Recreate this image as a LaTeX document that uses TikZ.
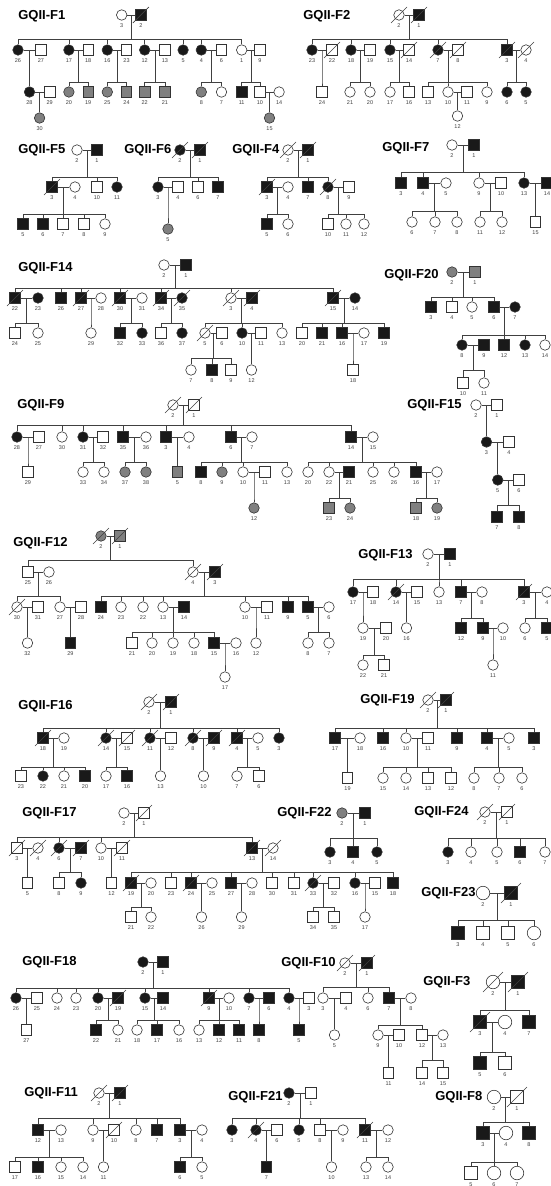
\documentclass[tikz,border=0pt]{standalone}
\usepackage{fontspec}
\setmainfont{Liberation Sans}
\usetikzlibrary{calc}
% marriage line, drop and sibship line down to each child
\newcommand{\kids}[4]{\draw (#1) -- (#2);
	\coordinate (mid) at ($(#1)!0.5!(#2)$);
	\foreach \k in {#4} {\draw (mid) -- (mid |- 0,#3) -- (\k.north |- 0,#3) -- (\k.north);}}
\newcommand{\dead}[2][8]{\draw ($(#2)+(-#1,#1)$) -- ($(#2)+(#1,-#1)$);}
\tikzset{
	sym/.style={minimum size=10.5pt},
	ind/.style={draw=black!80, line width=0.6pt, inner sep=0pt, sym},
	mu/.style={ind, rectangle, fill=white},
	ma/.style={ind, rectangle, fill=black!90},
	mc/.style={ind, rectangle, fill=black!50},
	fu/.style={ind, circle, fill=white},
	fa/.style={ind, circle, fill=black!90},
	fc/.style={ind, circle, fill=black!50},
	title/.style={font=\bfseries\fontsize{13}{13}\selectfont, text=black, anchor=west, inner sep=0pt},
	every label/.style={font=\fontsize{5.5}{6}\selectfont, inner sep=0.5pt, text=black!75}
}
\begin{document}
\begin{tikzpicture}[x=1pt, y=-1pt, line width=0.6pt, color=black!75, label distance=2pt]
			%%%%% START %%%%%
			\fill[white] (0,0) rectangle (551,1186);
			\useasboundingbox (0,0) rectangle (551,1186);
			
			%%%%% GQII-F1 %%%%%
			\node[title] at (18,16) {GQII-F1};
			\node[fu,label=below:3] (f1-3) at (121.7,15) {};
			\node[ma,label=below:2] (f1-2) at (140.9,15) {};
			\foreach \n/\x/\t in {26/18/fa,27/41/mu,17/68.9/fa,18/88.1/mu,16/107.3/fa,23/126.5/mu,12/144.7/fa,13/164.9/mu,5/183.1/fa,4/201.3/fa,6/221.5/mu,1/241.7/fu,9/259.9/mu}
				\node[\t,label=below:\n] (f1-\n) at (\x,50) {};
			\foreach \n/\x/\t in {28/29.5/fa,29/49.7/mu,20/68.9/fc,19/88.1/mc,25/107.3/fc,24/126.5/mc,22/144.7/mc,21/164.9/mc,8/201.3/fc,7/221.5/fu,11/241.7/ma,10/259.9/mu,14/279.1/fu}
				\node[\t,label=below:\n] (f1-\n) at (\x,92) {};
			\node[fc,label=below:30] (f1-30) at (39.6,118) {};
			\node[fc,label=below:15] (f1-15) at (269.5,118) {};
			\kids{f1-3}{f1-2}{39}{f1-26,f1-17,f1-16,f1-12,f1-5,f1-4,f1-1}
			\kids{f1-26}{f1-27}{70}{f1-28}
			\kids{f1-17}{f1-18}{82}{f1-20,f1-19}
			\kids{f1-16}{f1-23}{82}{f1-25,f1-24}
			\kids{f1-12}{f1-13}{82}{f1-22,f1-21}
			\kids{f1-4}{f1-6}{82}{f1-8,f1-7}
			\kids{f1-1}{f1-9}{82}{f1-11,f1-10}
			\kids{f1-28}{f1-29}{105}{f1-30}
			\kids{f1-10}{f1-14}{105}{f1-15}
			\dead{f1-2}
			
			%%%%% GQII-F2 %%%%%
			\node[title] at (303,16) {GQII-F2};
			\node[fu,label=below:2] (f2-2) at (399,15) {};
			\node[ma,label=below:1] (f2-1) at (419,15) {};
			\foreach \n/\x/\t in {23/312/fa,22/332/mu,18/351/fa,19/370/mu,15/390/fa,14/409/mu,7/438/fa,8/458/mu,3/507/ma,4/526/fu}
				\node[\t,label=below:\n] (f2-\n) at (\x,50) {};
			\foreach \n/\x/\t in {24/322/mu,21/350/fu,20/370/fu,17/390/fu,16/409/mu,13/428/mu,10/448/fu,11/467/mu,9/487/fu,6/507/fa,5/526/fa}
				\node[\t,label=below:\n] (f2-\n) at (\x,92) {};
			\node[fu,label=below:12] (f2-12) at (457.5,116) {};
			\kids{f2-2}{f2-1}{39}{f2-23,f2-18,f2-15,f2-7,f2-3}
			\kids{f2-23}{f2-22}{82}{f2-24}
			\kids{f2-18}{f2-19}{82}{f2-21,f2-20}
			\kids{f2-15}{f2-14}{82}{f2-17,f2-16}
			\kids{f2-7}{f2-8}{82}{f2-13,f2-10,f2-9}
			\kids{f2-10}{f2-11}{105}{f2-12}
			\kids{f2-3}{f2-4}{82}{f2-6,f2-5}
			\foreach \n in {f2-2,f2-1,f2-22,f2-14,f2-7,f2-8,f2-3,f2-4} {\dead{\n}}
			
			%%%%% GQII-F5 %%%%%
			\node[title] at (18,150) {GQII-F5};
			\node[fu,label=below:2] (f5-2) at (77,150) {};
			\node[ma,label=below:1] (f5-1) at (97,150) {};
			\foreach \n/\x/\t in {3/52/ma,4/75/fu,10/97/mu,11/117/fa}
				\node[\t,label=below:\n] (f5-\n) at (\x,187) {};
			\foreach \n/\x/\t in {5/23/ma,6/43/ma,7/63/mu,8/84/mu,9/105/fu}
				\node[\t,label=below:\n] (f5-\n) at (\x,224) {};
			\kids{f5-2}{f5-1}{177}{f5-3,f5-10,f5-11}
			\kids{f5-3}{f5-4}{214}{f5-5,f5-6,f5-7,f5-8,f5-9}
			\dead{f5-3}
			
			%%%%% GQII-F6 %%%%%
			\node[title] at (124,150) {GQII-F6};
			\node[fa,label=below:2] (f6-2) at (180,150) {};
			\node[ma,label=below:1] (f6-1) at (200,150) {};
			\foreach \n/\x/\t in {3/158/fa,4/178/mu,6/198/mu,7/218/ma}
				\node[\t,label=below:\n] (f6-\n) at (\x,187) {};
			\node[fc,label=below:5] (f6-5) at (168,229) {};
			\kids{f6-2}{f6-1}{177}{f6-3,f6-6,f6-7}
			\kids{f6-3}{f6-4}{214}{f6-5}
			\foreach \n in {f6-2,f6-1} {\dead{\n}}
			
			%%%%% GQII-F4 %%%%%
			\node[title] at (232,150) {GQII-F4};
			\node[fu,label=below:2] (f4-2) at (288,150) {};
			\node[ma,label=below:1] (f4-1) at (308,150) {};
			\foreach \n/\x/\t in {3/267/ma,4/288/fu,7/308/ma,8/328/fa,9/349/mu}
				\node[\t,label=below:\n] (f4-\n) at (\x,187) {};
			\foreach \n/\x/\t in {5/267/ma,6/288/fu,10/328/mu,11/346/fu,12/364/fu}
				\node[\t,label=below:\n] (f4-\n) at (\x,224) {};
			\kids{f4-2}{f4-1}{177}{f4-3,f4-7,f4-8}
			\kids{f4-3}{f4-4}{214}{f4-5,f4-6}
			\kids{f4-8}{f4-9}{214}{f4-10,f4-11,f4-12}
			\foreach \n in {f4-2,f4-1,f4-3,f4-8} {\dead{\n}}
			
			%%%%% GQII-F7 %%%%%
			\node[title] at (382,148) {GQII-F7};
			\node[fu,label=below:2] (f7-2) at (452,145) {};
			\node[ma,label=below:1] (f7-1) at (474,145) {};
			\foreach \n/\x/\t in {3/401/ma,4/423/ma,5/446/fu,9/479/fu,10/501/mu,13/524/fa,14/547/ma}
				\node[\t,label=below:\n] (f7-\n) at (\x,183) {};
			\foreach \n/\x/\t in {6/412/fu,7/435/fu,8/457/fu,11/480/fu,12/502/fu,15/535.5/mu}
				\node[\t,label=below:\n] (f7-\n) at (\x,222) {};
			\kids{f7-2}{f7-1}{172}{f7-3,f7-4,f7-9,f7-13}
			\kids{f7-4}{f7-5}{211}{f7-6,f7-7,f7-8}
			\kids{f7-9}{f7-10}{211}{f7-11,f7-12}
			\kids{f7-13}{f7-14}{211}{f7-15}
			
			%%%%% GQII-F14 %%%%%
			\node[title] at (18,268) {GQII-F14};
			\node[fu,label=below:2] (f14-2) at (164,265) {};
			\node[ma,label=below:1] (f14-1) at (186,265) {};
			\foreach \n/\x/\t in {22/15/ma,23/38/fa,26/61/ma,27/81/ma,28/101/fu,30/120/ma,31/142/fu,34/161/ma,35/182/fa,3/231/fu,4/252/ma,15/333/ma,14/355/fa}
				\node[\t,label=below:\n] (f14-\n) at (\x,298) {};
			\foreach \n/\x/\t in {24/15/mu,25/38/fu,29/91/fu,32/120/ma,33/142/fa,36/161/mu,37/182/fa,5/205/fu,6/222/mu,10/242/fa,11/261/mu,13/282/fu,20/302/mu,21/322/ma,16/342/ma,17/364/fu,19/384/ma}
				\node[\t,label=below:\n] (f14-\n) at (\x,333) {};
			\foreach \n/\x/\t in {7/191/fu,8/212/ma,9/231/mu,12/251.5/fu,18/353/mu}
				\node[\t,label=below:\n] (f14-\n) at (\x,370) {};
			\kids{f14-2}{f14-1}{288}{f14-22,f14-26,f14-27,f14-30,f14-34,f14-3,f14-15}
			\kids{f14-22}{f14-23}{323}{f14-24,f14-25}
			\kids{f14-27}{f14-28}{323}{f14-29}
			\kids{f14-30}{f14-31}{323}{f14-32,f14-33}
			\kids{f14-34}{f14-35}{323}{f14-36,f14-37}
			\kids{f14-3}{f14-4}{323}{f14-5,f14-10,f14-13}
			\kids{f14-15}{f14-14}{323}{f14-20,f14-21,f14-16,f14-19}
			\kids{f14-5}{f14-6}{358}{f14-7,f14-8,f14-9}
			\kids{f14-10}{f14-11}{358}{f14-12}
			\kids{f14-16}{f14-17}{358}{f14-18}
			\foreach \n in {f14-22,f14-27,f14-30,f14-34,f14-35,f14-3,f14-4,f14-15,f14-5} {\dead{\n}}
			
			%%%%% GQII-F20 %%%%%
			\node[title] at (384,275) {GQII-F20};
			\node[fc,label=below:2] (f20-2) at (452,272) {};
			\node[mc,label=below:1] (f20-1) at (475,272) {};
			\foreach \n/\x/\t in {3/431/ma,4/452/mu,5/472/fu,6/494/ma,7/515/fa}
				\node[\t,label=below:\n] (f20-\n) at (\x,307) {};
			\foreach \n/\x/\t in {8/462/fa,9/484/ma,12/504/ma,13/525/fa,14/545/fu}
				\node[\t,label=below:\n] (f20-\n) at (\x,345) {};
			\foreach \n/\x/\t in {10/463/mu,11/484/fu}
				\node[\t,label=below:\n] (f20-\n) at (\x,383) {};
			\kids{f20-2}{f20-1}{297}{f20-3,f20-4,f20-5,f20-6}
			\kids{f20-6}{f20-7}{335}{f20-8,f20-12,f20-13,f20-14}
			\kids{f20-8}{f20-9}{370}{f20-10,f20-11}
			
			%%%%% GQII-F9 %%%%%
			\node[title] at (17,405) {GQII-F9};
			\node[fu,label=below:2] (f9-2) at (173,405) {};
			\node[mu,label=below:1] (f9-1) at (194,405) {};
			\foreach \n/\x/\t in {28/17/fa,27/39/mu,30/62/fu,31/83/fa,32/103/mu,35/123/ma,36/146/fu,3/166/ma,4/189/fu,6/231/ma,7/252/fu,14/351/ma,15/373/fu}
				\node[\t,label=below:\n] (f9-\n) at (\x,437) {};
			\foreach \n/\x/\t in {29/28/mu,33/83/fu,34/104/fu,37/125/fc,38/146/fc,5/177.5/mc,8/201/ma,9/222/fc,10/243/fu,11/265/mu,13/287/fu,20/308/fu,22/329/fu,21/349/ma,25/373/fu,26/394/fu,16/416/ma,17/437/fu}
				\node[\t,label=below:\n] (f9-\n) at (\x,472) {};
			\foreach \n/\x/\t in {12/254/fc,23/329/mc,24/350/fc,18/416/mc,19/437/fc}
				\node[\t,label=below:\n] (f9-\n) at (\x,508) {};
			\kids{f9-2}{f9-1}{425}{f9-28,f9-30,f9-31,f9-35,f9-3,f9-6,f9-14}
			\kids{f9-28}{f9-27}{462}{f9-29}
			\kids{f9-31}{f9-32}{462}{f9-33,f9-34}
			\kids{f9-35}{f9-36}{462}{f9-37,f9-38}
			\kids{f9-3}{f9-4}{462}{f9-5}
			\kids{f9-6}{f9-7}{462}{f9-8,f9-9,f9-10,f9-13}
			\kids{f9-14}{f9-15}{462}{f9-20,f9-22,f9-25,f9-26,f9-16}
			\kids{f9-10}{f9-11}{498}{f9-12}
			\kids{f9-22}{f9-21}{498}{f9-23,f9-24}
			\kids{f9-16}{f9-17}{498}{f9-18,f9-19}
			\foreach \n in {f9-2,f9-1} {\dead{\n}}
			
			%%%%% GQII-F15 %%%%%
			\node[title] at (407,405) {GQII-F15};
			\node[fu,label=below:2] (f15-2) at (476,405) {};
			\node[mu,label=below:1] (f15-1) at (497,405) {};
			\node[fa,label=below:3] (f15-3) at (486.5,442) {};
			\node[mu,label=below:4] (f15-4) at (509,442) {};
			\node[fa,label=below:5] (f15-5) at (497.75,480) {};
			\node[mu,label=below:6] (f15-6) at (519,480) {};
			\node[ma,label=below:7] (f15-7) at (497,517) {};
			\node[ma,label=below:8] (f15-8) at (519,517) {};
			\kids{f15-2}{f15-1}{425}{f15-3}
			\kids{f15-3}{f15-4}{462}{f15-5}
			\kids{f15-5}{f15-6}{505}{f15-7,f15-8}
			
			%%%%% GQII-F12 %%%%%
			\node[title] at (13,543) {GQII-F12};
			\node[fc,label=below:2] (f12-2) at (101,536) {};
			\node[mc,label=below:1] (f12-1) at (120,536) {};
			\foreach \n/\x/\t in {25/28/mu,26/49/fu,4/193/fu,3/215/ma}
				\node[\t,label=below:\n] (f12-\n) at (\x,572) {};
			\foreach \n/\x/\t in {30/17/fu,31/38/mu,27/60/fu,28/81/mu,24/101/ma,23/121/fu,22/143/fu,13/163/fu,14/184/ma,10/245/fu,11/267/mu,9/288/ma,5/308/ma,6/329/fu}
				\node[\t,label=below:\n] (f12-\n) at (\x,607) {};
			\foreach \n/\x/\t in {32/27.5/fu,29/70.5/ma,21/132/mu,20/152/fu,19/173/fu,18/194/fu,15/214/ma,16/236/fu,12/256/fu,8/308/fu,7/329/fu}
				\node[\t,label=below:\n] (f12-\n) at (\x,643) {};
			\node[fu,label=below:17] (f12-17) at (225,677) {};
			\kids{f12-2}{f12-1}{560}{f12-25,f12-4}
			\kids{f12-25}{f12-26}{596}{f12-30,f12-27}
			\kids{f12-4}{f12-3}{596}{f12-24,f12-23,f12-22,f12-13,f12-10,f12-9,f12-5}
			\kids{f12-30}{f12-31}{620}{f12-32}
			\kids{f12-27}{f12-28}{620}{f12-29}
			\kids{f12-13}{f12-14}{632}{f12-21,f12-20,f12-19,f12-18,f12-15}
			\kids{f12-10}{f12-11}{620}{f12-12}
			\kids{f12-5}{f12-6}{632}{f12-8,f12-7}
			\kids{f12-15}{f12-16}{660}{f12-17}
			\foreach \n in {f12-2,f12-1,f12-4,f12-3,f12-30} {\dead{\n}}
			
			%%%%% GQII-F13 %%%%%
			\node[title] at (358,555) {GQII-F13};
			\node[fu,label=below:2] (f13-2) at (428,554) {};
			\node[ma,label=below:1] (f13-1) at (450,554) {};
			\foreach \n/\x/\t in {17/353/fa,18/373/mu,14/396/fa,15/417/mu,13/439/fu,7/461/ma,8/482/fu,3/524/ma,4/547/fu}
				\node[\t,label=below:\n] (f13-\n) at (\x,592) {};
			\foreach \n/\x/\t in {19/363/fu,20/386/mu,16/406.5/fu,12/461/ma,9/483/ma,10/503/fu,6/525/fu,5/547/ma}
				\node[\t,label=below:\n] (f13-\n) at (\x,628) {};
			\foreach \n/\x/\t in {22/363/fu,21/384/mu,11/493/fu}
				\node[\t,label=below:\n] (f13-\n) at (\x,665) {};
			\kids{f13-2}{f13-1}{579}{f13-17,f13-14,f13-13,f13-7,f13-3}
			\kids{f13-17}{f13-18}{610}{f13-19}
			\kids{f13-14}{f13-15}{610}{f13-16}
			\kids{f13-7}{f13-8}{618}{f13-12,f13-9}
			\kids{f13-3}{f13-4}{618}{f13-6,f13-5}
			\kids{f13-19}{f13-20}{655}{f13-22,f13-21}
			\kids{f13-9}{f13-10}{650}{f13-11}
			\foreach \n in {f13-14,f13-3} {\dead{\n}}
			
			%%%%% GQII-F16 %%%%%
			\node[title] at (18,706) {GQII-F16};
			\node[fu,label=below:2] (f16-2) at (149,702) {};
			\node[ma,label=below:1] (f16-1) at (171,702) {};
			\foreach \n/\x/\t in {18/43/ma,19/64/fu,14/106/fa,15/127/mu,11/150/fa,12/171/mu,8/193/fa,9/214/ma,4/237/ma,5/258/fu,3/279/fa}
				\node[\t,label=below:\n] (f16-\n) at (\x,738) {};
			\foreach \n/\x/\t in {23/21/mu,22/43/fa,21/64/fu,20/85/ma,17/106/fu,16/127/ma,13/160.5/fu,10/203.5/fu,7/237/fu,6/259/mu}
				\node[\t,label=below:\n] (f16-\n) at (\x,776) {};
			\kids{f16-2}{f16-1}{728}{f16-18,f16-14,f16-11,f16-8,f16-4,f16-3}
			\kids{f16-18}{f16-19}{767}{f16-23,f16-22,f16-21,f16-20}
			\kids{f16-14}{f16-15}{767}{f16-17,f16-16}
			\kids{f16-11}{f16-12}{767}{f16-13}
			\kids{f16-8}{f16-9}{767}{f16-10}
			\kids{f16-4}{f16-5}{767}{f16-7,f16-6}
			\foreach \n in {f16-2,f16-1,f16-18,f16-14,f16-15,f16-11,f16-8,f16-9,f16-4} {\dead{\n}}
			
			%%%%% GQII-F19 %%%%%
			\node[title] at (360,700) {GQII-F19};
			\node[fu,label=below:2] (f19-2) at (428,700) {};
			\node[ma,label=below:1] (f19-1) at (446,700) {};
			\foreach \n/\x/\t in {17/335/ma,18/360/fu,16/383/ma,10/406/fu,11/428/mu,9/457/ma,4/487/ma,5/509/fu,3/534/ma}
				\node[\t,label=below:\n] (f19-\n) at (\x,738) {};
			\foreach \n/\x/\t in {19/347.5/mu,15/383/fu,14/406/fu,13/428/mu,12/451/mu,8/474/fu,7/499/fu,6/522/fu}
				\node[\t,label=below:\n] (f19-\n) at (\x,778) {};
			\kids{f19-2}{f19-1}{728}{f19-17,f19-16,f19-10,f19-9,f19-4,f19-3}
			\kids{f19-17}{f19-18}{767}{f19-19}
			\kids{f19-10}{f19-11}{767}{f19-15,f19-14,f19-13,f19-12}
			\kids{f19-4}{f19-5}{767}{f19-8,f19-7,f19-6}
			\foreach \n in {f19-2,f19-1} {\dead{\n}}
			
			%%%%% GQII-F17 %%%%%
			\node[title] at (22,813) {GQII-F17};
			\node[fu,label=below:2] (f17-2) at (124,813) {};
			\node[mu,label=below:1] (f17-1) at (144,813) {};
			\foreach \n/\x/\t in {3/17/mu,4/38/fu,6/59/fa,7/81/ma,10/101/fu,11/122/mu,13/252/ma,14/273/fu}
				\node[\t,label=below:\n] (f17-\n) at (\x,848) {};
			\foreach \n/\x/\t in {5/27.5/mu,8/59/mu,9/81/fa,12/111.5/mu,19/131/ma,20/151/fu,23/171/mu,24/191/ma,25/212/fu,27/231/ma,28/252/fu,30/272/mu,31/294/mu,33/313/fa,32/334/mu,16/355/fa,15/375/mu,18/393/ma}
				\node[\t,label=below:\n] (f17-\n) at (\x,883) {};
			\foreach \n/\x/\t in {21/131/mu,22/151/fu,26/201.5/fu,29/241.5/fu,34/313/mu,35/334/mu,17/365/fu}
				\node[\t,label=below:\n] (f17-\n) at (\x,917) {};
			\kids{f17-2}{f17-1}{837}{f17-3,f17-6,f17-10,f17-13}
			\kids{f17-3}{f17-4}{872}{f17-5}
			\kids{f17-6}{f17-7}{872}{f17-8,f17-9}
			\kids{f17-10}{f17-11}{872}{f17-12}
			\kids{f17-13}{f17-14}{872}{f17-19,f17-23,f17-24,f17-27,f17-30,f17-31,f17-33,f17-16,f17-18}
			\kids{f17-19}{f17-20}{907}{f17-21,f17-22}
			\kids{f17-24}{f17-25}{907}{f17-26}
			\kids{f17-27}{f17-28}{907}{f17-29}
			\kids{f17-33}{f17-32}{907}{f17-34,f17-35}
			\kids{f17-16}{f17-15}{907}{f17-17}
			\foreach \n in {f17-1,f17-3,f17-4,f17-6,f17-7,f17-11,f17-13,f17-14,f17-19,f17-24,f17-33} {\dead{\n}}
			
			%%%%% GQII-F22 %%%%%
			\node[title] at (277,813) {GQII-F22};
			\node[fc,label=below:2] (f22-2) at (342,813) {};
			\node[ma,label=below:1] (f22-1) at (365,813) {};
			\foreach \n/\x/\t in {3/330/fa,4/353/ma,5/377/fa}
				\node[\t,label=below:\n] (f22-\n) at (\x,852) {};
			\kids{f22-2}{f22-1}{838}{f22-3,f22-4,f22-5}
			
			%%%%% GQII-F24 %%%%%
			\node[title] at (414,812) {GQII-F24};
			\node[fu,label=below:2] (f24-2) at (485,812) {};
			\node[mu,label=below:1] (f24-1) at (507,812) {};
			\foreach \n/\x/\t in {3/448/fa,4/471/fu,5/497/fu,6/520/ma,7/545/fu}
				\node[\t,label=below:\n] (f24-\n) at (\x,852) {};
			\kids{f24-2}{f24-1}{838}{f24-3,f24-4,f24-5,f24-6,f24-7}
			\foreach \n in {f24-2,f24-1} {\dead{\n}}
			
			%%%%% GQII-F23 %%%%%
			\begin{scope}[sym/.style={minimum size=13.5pt}]
			\node[title] at (421,893) {GQII-F23};
			\node[fu,label=below:2] (f23-2) at (483,893) {};
			\node[ma,label=below:1] (f23-1) at (511,893) {};
			\foreach \n/\x/\t in {3/458/ma,4/483/mu,5/508/mu,6/534/fu}
				\node[\t,label=below:\n] (f23-\n) at (\x,933) {};
			\kids{f23-2}{f23-1}{920}{f23-3,f23-4,f23-5,f23-6}
			\dead[10]{f23-1}
			\end{scope}
			
			%%%%% GQII-F18 %%%%%
			\node[title] at (22,962) {GQII-F18};
			\node[fa,label=below:2] (f18-2) at (143,962) {};
			\node[ma,label=below:1] (f18-1) at (163,962) {};
			\foreach \n/\x/\t in {26/16/fa,25/37/mu,24/57/fu,23/76/fu,20/98/fa,19/118/ma,15/145/fa,14/163/ma,9/209/ma,10/229/fu,7/249/fa,6/269/ma,4/289/fa,3/309/mu}
				\node[\t,label=below:\n] (f18-\n) at (\x,998) {};
			\foreach \n/\x/\t in {27/26.5/mu,22/96/ma,21/118/fu,18/137/fu,17/157/ma,16/179/fu,13/199/fu,12/219/ma,11/239/ma,8/259/ma,5/299/ma}
				\node[\t,label=below:\n] (f18-\n) at (\x,1030) {};
			\kids{f18-2}{f18-1}{988}{f18-26,f18-24,f18-23,f18-20,f18-15,f18-9,f18-7,f18-4}
			\kids{f18-26}{f18-25}{1020}{f18-27}
			\kids{f18-20}{f18-19}{1020}{f18-22,f18-21}
			\kids{f18-15}{f18-14}{1020}{f18-18,f18-17,f18-16}
			\kids{f18-9}{f18-10}{1020}{f18-13,f18-12,f18-11}
			\kids{f18-7}{f18-6}{1020}{f18-8}
			\kids{f18-4}{f18-3}{1020}{f18-5}
			\foreach \n in {f18-19,f18-9} {\dead{\n}}
			
			%%%%% GQII-F10 %%%%%
			\node[title] at (281,963) {GQII-F10};
			\node[fu,label=below:2] (f10-2) at (345,963) {};
			\node[ma,label=below:1] (f10-1) at (367,963) {};
			\foreach \n/\x/\t in {3/323/fu,4/346/mu,6/368/fu,7/389/ma,8/411/fu}
				\node[\t,label=below:\n] (f10-\n) at (\x,998) {};
			\foreach \n/\x/\t in {5/334.5/fu,9/378/fu,10/399/mu,12/422/mu,13/443/fu}
				\node[\t,label=below:\n] (f10-\n) at (\x,1035) {};
			\foreach \n/\x/\t in {11/388.5/mu,14/422/mu,15/443/mu}
				\node[\t,label=below:\n] (f10-\n) at (\x,1073) {};
			\kids{f10-2}{f10-1}{987}{f10-3,f10-6,f10-7}
			\kids{f10-3}{f10-4}{1015}{f10-5}
			\kids{f10-7}{f10-8}{1025}{f10-9,f10-12}
			\kids{f10-9}{f10-10}{1060}{f10-11}
			\kids{f10-12}{f10-13}{1060}{f10-14,f10-15}
			\foreach \n in {f10-2,f10-1} {\dead{\n}}
			
			%%%%% GQII-F3 %%%%%
			\begin{scope}[sym/.style={minimum size=13.5pt}]
			\node[title] at (423,982) {GQII-F3};
			\node[fu,label=below:2] (f3-2) at (493,982) {};
			\node[ma,label=below:1] (f3-1) at (518,982) {};
			\foreach \n/\x/\t in {3/480/ma,4/505/fu,7/529/ma}
				\node[\t,label=below:\n] (f3-\n) at (\x,1022) {};
			\foreach \n/\x/\t in {5/480/ma,6/505/mu}
				\node[\t,label=below:\n] (f3-\n) at (\x,1063) {};
			\kids{f3-2}{f3-1}{1010}{f3-3,f3-7}
			\kids{f3-3}{f3-4}{1052}{f3-5,f3-6}
			\foreach \n in {f3-2,f3-1,f3-3} {\dead[10]{\n}}
			\end{scope}
			
			%%%%% GQII-F11 %%%%%
			\node[title] at (24,1093) {GQII-F11};
			\node[fu,label=below:2] (f11-2) at (99,1093) {};
			\node[ma,label=below:1] (f11-1) at (120,1093) {};
			\foreach \n/\x/\t in {12/38/ma,13/61/fu,9/93/fu,10/114/mu,8/136/fu,7/157/ma,3/180/ma,4/202/fu}
				\node[\t,label=below:\n] (f11-\n) at (\x,1130) {};
			\foreach \n/\x/\t in {17/15/mu,16/38/ma,15/61/fu,14/83/fu,11/103.5/fu,6/180/ma,5/202/fu}
				\node[\t,label=below:\n] (f11-\n) at (\x,1167) {};
			\kids{f11-2}{f11-1}{1118}{f11-12,f11-9,f11-8,f11-7,f11-3}
			\kids{f11-12}{f11-13}{1157}{f11-17,f11-16,f11-15,f11-14}
			\kids{f11-9}{f11-10}{1157}{f11-11}
			\kids{f11-3}{f11-4}{1157}{f11-6,f11-5}
			\foreach \n in {f11-2,f11-1,f11-10} {\dead{\n}}
			
			%%%%% GQII-F21 %%%%%
			\node[title] at (228,1097) {GQII-F21};
			\node[fa,label=below:2] (f21-2) at (289,1093) {};
			\node[mu,label=below:1] (f21-1) at (311,1093) {};
			\foreach \n/\x/\t in {3/232/fa,4/256/fa,6/277/mu,5/299/fa,8/320/mu,9/343/fu,11/365/ma,12/388/fu}
				\node[\t,label=below:\n] (f21-\n) at (\x,1130) {};
			\foreach \n/\x/\t in {7/266.5/ma,10/331.5/fu,13/366/fu,14/388/fu}
				\node[\t,label=below:\n] (f21-\n) at (\x,1167) {};
			\kids{f21-2}{f21-1}{1118}{f21-3,f21-4,f21-5,f21-8,f21-11}
			\kids{f21-4}{f21-6}{1157}{f21-7}
			\kids{f21-8}{f21-9}{1157}{f21-10}
			\kids{f21-11}{f21-12}{1157}{f21-13,f21-14}
			\foreach \n in {f21-4,f21-11} {\dead{\n}}
			
			%%%%% GQII-F8 %%%%%
			\begin{scope}[sym/.style={minimum size=13.5pt}]
			\node[title] at (435,1097) {GQII-F8};
			\node[fu,label=below:2] (f8-2) at (494,1097) {};
			\node[mu,label=below:1] (f8-1) at (517,1097) {};
			\foreach \n/\x/\t in {3/483/ma,4/506/fu,8/529/ma}
				\node[\t,label=below:\n] (f8-\n) at (\x,1133) {};
			\foreach \n/\x/\t in {5/471/mu,6/494/fu,7/517/fu}
				\node[\t,label=below:\n] (f8-\n) at (\x,1173) {};
			\kids{f8-2}{f8-1}{1122}{f8-3,f8-8}
			\kids{f8-3}{f8-4}{1162}{f8-5,f8-6,f8-7}
			\dead[10]{f8-1}
			\end{scope}
			
			%%%%% END %%%%%
\end{tikzpicture}
\end{document}
